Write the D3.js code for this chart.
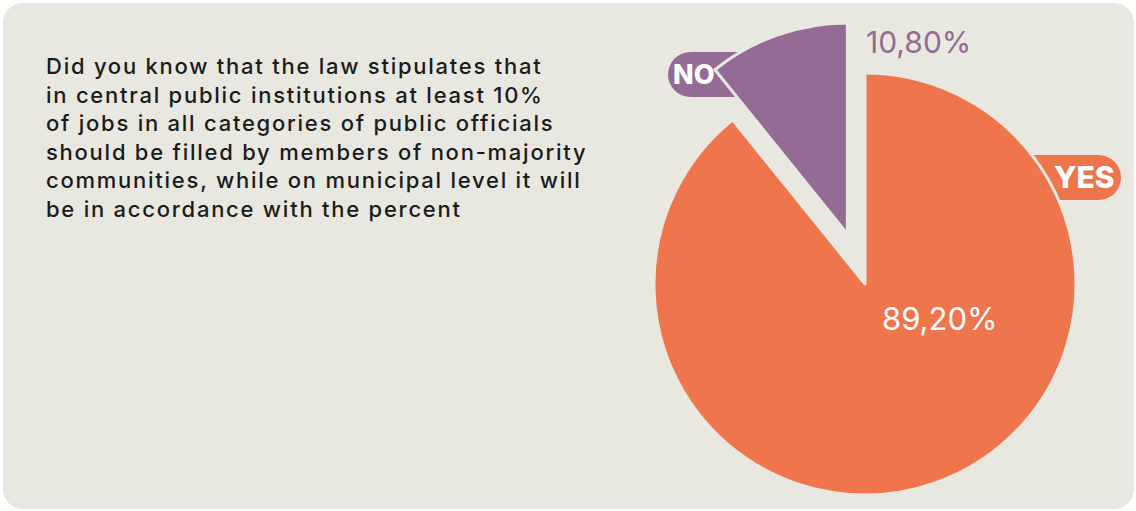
<!DOCTYPE html>
<html>
<head>
<meta charset="utf-8">
<script src="https://cdn.jsdelivr.net/npm/d3@7"></script>
<style>
  body { margin: 0; background: #ffffff; }
  svg { display: block; }
</style>
</head>
<body>
<script>
// chart data
const categories = ["YES", "NO"];
const values = [89.2, 10.8];
const valueLabels = ["89,20%", "10,80%"];
const colors = ["#ef754d", "#946b95"];
const introLines = [
  "Did you know that the law stipulates that",
  "in central public institutions at least 10%",
  "of jobs in all categories of public officials",
  "should be filled by members of non-majority",
  "communities, while on municipal level it will",
  "be in accordance with the percent"
];

const width = 1136, height = 511;
const bg = "#e8e7e0";
const font = "Inter, 'Noto Sans', sans-serif";

const svg = d3.select("body").append("svg")
  .attr("width", width)
  .attr("height", height);

// card
svg.append("rect")
  .attr("x", 3).attr("y", 3)
  .attr("width", 1131).attr("height", 506)
  .attr("rx", 20)
  .attr("fill", bg);

// intro text
svg.append("g")
  .selectAll("text")
  .data(introLines)
  .enter()
  .append("text")
  .attr("x", 46)
  .attr("y", (d, i) => 74 + i * 28.6)
  .attr("font-family", font)
  .attr("font-size", 22)
  .attr("font-weight", 500)
  .attr("letter-spacing", 1.75)
  .attr("fill", "#1b1b1b")
  .text(d => d);

/* pie */
const cx = 865, cy = 284, r = 211;
const explode = 53;

const pie = d3.pie().sort(null).value(d => d);
const arcs = pie(values);
const arc = d3.arc().innerRadius(0).outerRadius(r);

const pieG = svg.append("g").attr("transform", `translate(${cx},${cy})`);

// label pills sit behind the slices
const pills = [
  { x: 1035 - cx, y: 155 - cy, w: 86, side: "right", tx: 1054 - cx, fs: 30 },
  { x: 668 - cx, y: 52 - cy, w: 90, side: "left", tx: 673 - cx, fs: 27 }
];
const pillH = 45;

arcs.forEach((a, i) => {
  const p = pills[i];
  const rx = p.side === "right" ? p.x - 60 : p.x;
  pieG.append("rect")
    .attr("x", rx)
    .attr("y", p.y)
    .attr("width", p.w + 60)
    .attr("height", pillH)
    .attr("rx", pillH / 2)
    .attr("fill", colors[i]);
  pieG.append("text")
    .attr("x", p.tx)
    .attr("y", p.y + pillH / 2)
    .attr("dy", "0.36em")
    .attr("font-family", font)
    .attr("font-size", p.fs)
    .attr("font-weight", 800)
    .attr("fill", "#ffffff")
    .text(categories[i]);
});

// slices
pieG.selectAll("path.slice")
  .data(arcs)
  .enter()
  .append("path")
  .attr("class", "slice")
  .attr("transform", (d, i) => {
    if (i === 0) return null;
    const mid = (d.startAngle + d.endAngle) / 2;
    return `translate(${Math.sin(mid) * explode},${-Math.cos(mid) * explode})`;
  })
  .attr("d", arc)
  .attr("fill", (d, i) => colors[i])
  .attr("stroke", bg)
  .attr("stroke-width", 3)
  .attr("stroke-linejoin", "round");

// value labels
pieG.append("text")
  .attr("x", 882 - cx)
  .attr("y", 330 - cy)
  .attr("font-family", font)
  .attr("font-size", 31)
  .attr("fill", "#ffffff")
  .text(valueLabels[0]);

pieG.append("text")
  .attr("x", 866 - cx)
  .attr("y", 53 - cy)
  .attr("font-family", font)
  .attr("font-size", 30)
  .attr("fill", colors[1])
  .text(valueLabels[1]);
</script>
</body>
</html>
